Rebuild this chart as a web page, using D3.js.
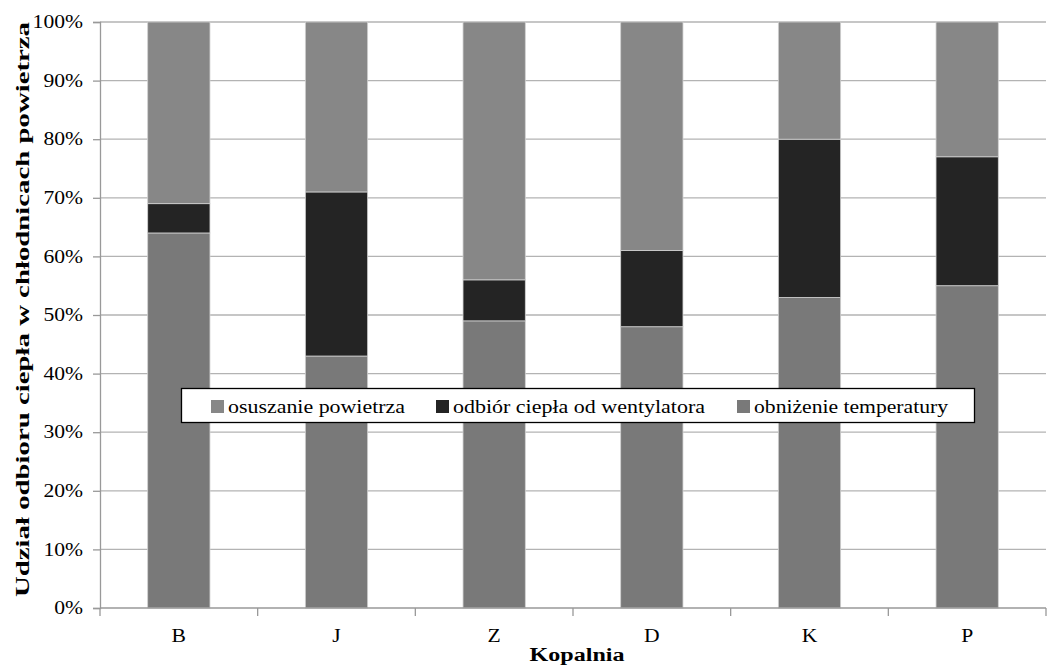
<!DOCTYPE html>
<html><head><meta charset="utf-8">
<script src="https://cdn.jsdelivr.net/npm/d3@7"></script>
<style>body{margin:0;background:#fff}</style>
</head><body>
<svg id="c" width="1059" height="667"></svg>
<script>
const categories = ["B","J","Z","D","K","P"];
const obnizenie = [64,43,49,48,53,55];
const wentylator = [5,28,7,13,27,22];
const osuszanie = [31,29,44,39,20,23];
const yTicks = [0,10,20,30,40,50,60,70,80,90,100];
const seriesNames = ["osuszanie powietrza","odbiór ciepła od wentylatora","obniżenie temperatury"];
const colors = {"obniżenie temperatury":"#797979","odbiór ciepła od wentylatora":"#242424","osuszanie powietrza":"#878787"};

const svg = d3.select("#c");
const L=100,R=1046,T=22,B=608;
const x = d3.scaleBand().domain(categories).range([L,R]).paddingInner(0.605).paddingOuter(0.3025);
const y = d3.scaleLinear().domain([0,100]).range([B,T]);
const font = "'Liberation Serif','Times New Roman',serif";
function fit(sel, w){ sel.each(function(){ const n=this; const len = typeof w==="function"? w(n.getComputedTextLength()) : w; n.setAttribute("textLength",len); n.setAttribute("lengthAdjust","spacingAndGlyphs"); }); }

// gridlines
svg.append("g").selectAll("line").data(yTicks.filter(d=>d>0)).join("line")
  .attr("x1",L).attr("x2",R).attr("y1",d=>y(d)).attr("y2",d=>y(d))
  .attr("stroke","#b3b3b3").attr("stroke-width",1.3);

const rows = categories.map((c,i)=>({cat:c,"obniżenie temperatury":obnizenie[i],"odbiór ciepła od wentylatora":wentylator[i],"osuszanie powietrza":osuszanie[i]}));
const stack = d3.stack().keys(["obniżenie temperatury","odbiór ciepła od wentylatora","osuszanie powietrza"]);
const layers = stack(rows);
svg.append("g").selectAll("g").data(layers).join("g").attr("fill",d=>colors[d.key])
  .selectAll("rect").data(d=>d).join("rect")
  .attr("x",d=>x(d.data.cat)).attr("width",x.bandwidth())
  .attr("y",d=>y(d[1])).attr("height",d=>y(d[0])-y(d[1]))
  .attr("stroke","#d0d0d0").attr("stroke-width",0.8);

// y axis
const ya = svg.append("g").attr("transform",`translate(${L},0)`)
  .call(d3.axisLeft(y).tickValues(yTicks).tickFormat(d=>d+"%").tickSize(7).tickPadding(10));
ya.select(".domain").attr("stroke","#999").attr("stroke-width",1.3);
ya.selectAll(".tick line").attr("stroke","#999").attr("stroke-width",1.3);
ya.selectAll("text").attr("font-family",font).attr("font-size",18).attr("fill","#000");
fit(ya.selectAll("text"), l=>l*1.2);

// x axis
const xa = svg.append("g").attr("transform",`translate(0,${B})`);
xa.append("line").attr("x1",L).attr("x2",R).attr("stroke","#999").attr("stroke-width",1.3);
const step = x.step();
xa.selectAll("line.t").data(d3.range(categories.length+1)).join("line").attr("class","t")
  .attr("x1",i=>L+i*step).attr("x2",i=>L+i*step).attr("y1",0).attr("y2",8)
  .attr("stroke","#999").attr("stroke-width",1.3);
const xl = xa.selectAll("text").data(categories).join("text")
  .attr("x",d=>x(d)+x.bandwidth()/2).attr("y",34).attr("text-anchor","middle")
  .attr("font-family",font).attr("font-size",18).text(d=>d);
fit(xl, l=>l*1.2);

const kt = svg.append("text").attr("x",(L+R)/2+4).attr("y",661).attr("text-anchor","middle")
  .attr("font-family",font).attr("font-size",18).attr("font-weight","bold").text("Kopalnia");
fit(kt, 95);
const yt = svg.append("text").attr("transform",`translate(29,${(22+597)/2}) rotate(-90)`).attr("text-anchor","middle")
  .attr("font-family",font).attr("font-size",18).attr("font-weight","bold").text("Udział odbioru ciepła w chłodnicach powietrza");
fit(yt, 575);

// legend
const lg = svg.append("g");
lg.append("rect").attr("x",181.5).attr("y",388.5).attr("width",793).attr("height",34)
  .attr("fill","#fff").attr("stroke","#000").attr("stroke-width",1.3);
const lx = [211,436,737];
const lw = [177,252,194];
seriesNames.forEach((n,i)=>{
  lg.append("rect").attr("x",lx[i]).attr("y",400).attr("width",13).attr("height",13).attr("fill",colors[n]);
  const t = lg.append("text").attr("x",lx[i]+17).attr("y",413).attr("font-family",font).attr("font-size",18).text(n);
  fit(t, lw[i]);
});
</script>
</body></html>
